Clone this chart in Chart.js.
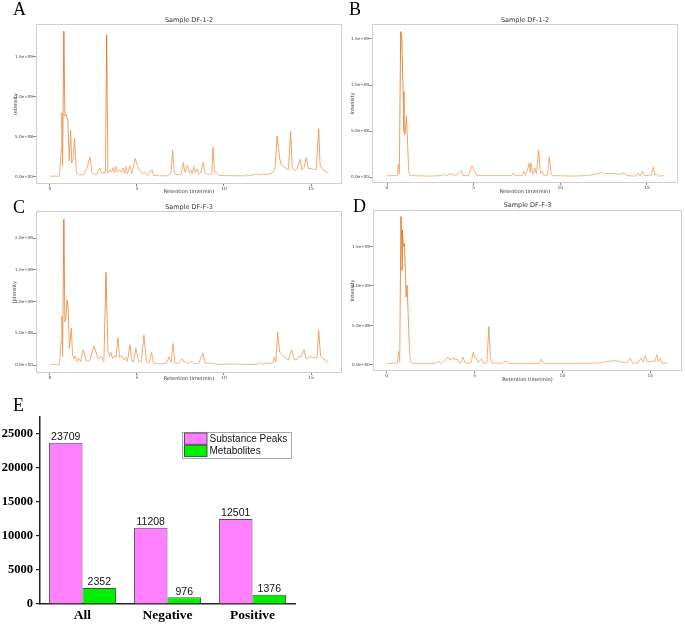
<!DOCTYPE html>
<html>
<head>
<meta charset="utf-8">
<script src="https://cdn.jsdelivr.net/npm/chart.js@4.4.0/dist/chart.umd.min.js"></script>
<style>
  html, body { margin: 0; padding: 0; background: #fff; }
  #page { position: relative; width: 685px; height: 625px; overflow: hidden; }
  canvas { position: absolute; }
  .tag { position: absolute; font-family: 'Liberation Serif', 'Times New Roman', serif; font-size: 18px; line-height: 1; color: #000; z-index: 2; }
</style>
</head>
<body>
<div id="page">
  <canvas id="chA" width="345" height="192" style="left:0px;top:8px"></canvas>
  <canvas id="chB" width="345" height="192" style="left:340px;top:8px"></canvas>
  <canvas id="chC" width="345" height="192" style="left:0px;top:198px"></canvas>
  <canvas id="chD" width="345" height="192" style="left:340px;top:198px"></canvas>
  <canvas id="chE" width="345" height="230" style="left:0px;top:395px"></canvas>
  <div class="tag" style="left:13px;top:0px">A</div>
  <div class="tag" style="left:349px;top:0px">B</div>
  <div class="tag" style="left:13px;top:198px">C</div>
  <div class="tag" style="left:353px;top:197px">D</div>
  <div class="tag" style="left:13px;top:396px">E</div>
</div>
<script>
// intensities are in units of 1e8
var UNIT = 1e8;

var aTime = [0, 0.55, 0.65, 0.69, 0.73, 0.8, 0.86, 0.92, 1.03, 1.11,
  1.19, 1.25, 1.32, 1.42, 1.52, 1.7, 1.95, 2.12, 2.3, 2.42,
  2.65, 2.87, 2.98, 3.1, 3.19, 3.26, 3.33, 3.45, 3.55, 3.64,
  3.72, 3.8, 3.9, 4.0, 4.1, 4.2, 4.3, 4.35, 4.45, 4.6,
  4.7, 4.9, 5.0, 5.15, 5.3, 5.46, 5.6, 5.86, 5.95, 6.3,
  6.7, 6.95, 7.05, 7.15, 7.35, 7.55, 7.66, 7.75, 7.82, 7.91,
  8.0, 8.1, 8.18, 8.26, 8.35, 8.45, 8.55, 8.65, 8.81, 8.9,
  9.1, 9.3, 9.37, 9.45, 9.55, 9.7, 10.6, 11.3, 11.36, 11.45,
  11.97, 12.1, 12.3, 12.6, 12.85, 12.95, 13.05, 13.2, 13.3, 13.5,
  13.7, 13.83, 13.92, 14.05, 14.2, 14.37, 14.47, 14.6, 14.73, 14.85,
  15.0, 15.15, 15.3, 15.44, 15.52, 15.65, 16.0];
var aIntensity = [0.1, 0.1, 3.5, 8.0, 1.4, 18.2, 7.6, 7.8, 7.0, 2.0,
  5.8, 1.8, 2.2, 4.8, 0.5, 0.25, 0.3, 1.0, 2.5, 0.5,
  0.25, 1.1, 0.4, 0.6, 0.5, 17.75, 0.5, 0.9, 0.6, 1.2,
  0.5, 1.3, 0.6, 0.9, 0.6, 1.1, 0.4, 1.3, 0.4, 1.4,
  0.4, 2.3, 1.6, 0.8, 0.4, 0.6, 0.2, 0.9, 0.2, 0.15,
  0.15, 0.4, 3.3, 0.4, 0.25, 0.4, 1.8, 0.6, 1.0, 1.4,
  0.5, 0.9, 0.4, 1.3, 0.5, 1.0, 0.3, 0.5, 1.8, 0.5,
  0.3, 0.4, 3.7, 0.6, 0.6, 0.2, 0.15, 0.15, 0.35, 0.15,
  0.4, 0.25, 0.35, 0.35, 0.6, 1.4, 5.1, 2.3, 1.5, 1.2,
  0.9, 5.7, 1.2, 0.8, 1.0, 2.2, 0.9, 1.2, 2.4, 1.0,
  1.1, 0.9, 1.0, 6.0, 1.5, 1.0, 0.45];

var bTime = [0, 0.6, 0.65, 0.71, 0.79, 0.85, 0.93, 0.98, 1.04, 1.12,
  1.17, 1.25, 1.35, 2.5, 3.16, 3.3, 3.45, 3.64, 3.8, 3.95,
  4.3, 4.4, 4.7, 4.9, 5.0, 5.15, 5.5, 7.2, 7.3, 7.4,
  7.8, 7.9, 8.0, 8.21, 8.26, 8.31, 8.4, 8.53, 8.62, 8.75,
  8.85, 8.95, 9.05, 9.25, 9.37, 9.47, 9.6, 10.75, 11.5, 12.0,
  12.39, 12.5, 13.0, 13.4, 13.7, 13.85, 14.3, 14.5, 14.6, 14.73,
  14.85, 15.1, 15.25, 15.37, 15.45, 15.55, 15.65, 16.0];
var bIntensity = [0.15, 0.15, 1.4, 0.3, 15.8, 15.2, 9.3, 4.9, 4.6, 6.6,
  4.6, 0.6, 0.15, 0.1, 0.15, 0.3, 0.15, 0.35, 0.25, 0.15,
  0.7, 0.15, 0.15, 1.2, 0.8, 0.2, 0.15, 0.15, 0.45, 0.15,
  0.15, 0.6, 0.15, 1.5, 0.5, 1.5, 0.3, 1.0, 0.3, 2.9,
  0.4, 0.6, 0.2, 0.2, 2.2, 0.3, 0.15, 0.1, 0.15, 0.3,
  0.55, 0.35, 0.4, 0.3, 0.4, 0.15, 0.1, 0.4, 0.1, 0.65,
  0.15, 0.2, 0.2, 1.1, 0.2, 0.35, 0.1, 0.15];

var cTime = [0, 0.55, 0.65, 0.69, 0.73, 0.8, 0.86, 0.92, 0.99, 1.05,
  1.12, 1.23, 1.3, 1.38, 1.45, 1.55, 1.65, 1.75, 1.92, 2.1,
  2.3, 2.53, 2.72, 2.8, 2.97, 3.1, 3.22, 3.33, 3.42, 3.5,
  3.6, 3.7, 3.8, 3.91, 4.0, 4.12, 4.25, 4.35, 4.45, 4.6,
  4.7, 4.8, 4.94, 5.1, 5.25, 5.4, 5.55, 5.7, 5.84, 5.95,
  6.3, 6.7, 6.84, 6.95, 7.07, 7.17, 7.35, 7.5, 7.6, 7.7,
  7.8, 7.95, 8.14, 8.25, 8.4, 8.55, 8.8, 8.9, 9.1, 9.4,
  9.6, 10.6, 11.2, 11.9, 12.0, 12.15, 12.5, 12.8, 12.9, 12.98,
  13.08, 13.2, 13.5, 13.7, 13.89, 14.05, 14.2, 14.3, 14.45, 14.6,
  14.7, 14.85, 15.0, 15.2, 15.35, 15.44, 15.55, 15.7, 16.0];
var cIntensity = [0.1, 0.1, 4.0, 7.7, 1.3, 23.0, 6.8, 7.5, 10.3, 9.0,
  2.6, 5.8, 1.6, 1.0, 1.4, 0.6, 1.1, 0.5, 2.4, 0.6,
  0.8, 3.0, 1.4, 0.9, 1.4, 0.5, 14.6, 2.3, 1.4, 2.0,
  1.0, 1.5, 1.2, 4.3, 1.2, 1.5, 0.8, 1.2, 0.6, 3.2,
  0.6, 0.5, 2.6, 0.6, 0.5, 4.7, 0.5, 0.3, 2.0, 0.3,
  0.15, 0.3, 1.3, 0.4, 3.4, 0.4, 0.2, 0.6, 1.0, 0.4,
  0.6, 0.2, 0.6, 0.3, 0.2, 0.3, 1.9, 0.3, 0.3, 0.25,
  0.1, 0.15, 0.1, 0.1, 0.4, 0.15, 0.25, 0.35, 1.3, 0.4,
  5.2, 2.0, 1.2, 0.8, 2.4, 0.8, 0.9, 1.3, 1.3, 2.4,
  1.0, 1.1, 1.4, 1.1, 1.2, 5.5, 1.4, 1.0, 0.4];

var dTime = [0, 0.6, 0.68, 0.74, 0.81, 0.85, 0.87, 0.89, 0.95, 1.01,
  1.07, 1.1, 1.16, 1.22, 1.28, 1.35, 1.5, 2.8, 2.93, 3.05,
  3.2, 3.35, 3.5, 3.6, 3.68, 3.76, 3.84, 3.92, 4.0, 4.1,
  4.2, 4.34, 4.45, 4.65, 4.8, 4.92, 5.0, 5.1, 5.2, 5.4,
  5.5, 5.7, 5.81, 5.9, 6.0, 6.5, 6.84, 6.95, 8.0, 8.7,
  8.79, 8.9, 10.6, 12.1, 12.5, 13.0, 13.4, 13.7, 13.86, 13.98,
  14.3, 14.47, 14.58, 14.71, 14.82, 15.05, 15.15, 15.25, 15.36, 15.45,
  15.55, 15.65, 16.0];
var dIntensity = [0.2, 0.25, 1.7, 0.4, 18.8, 16.2, 12.0, 17.1, 15.0, 15.4,
  11.2, 8.6, 10.1, 6.5, 2.7, 0.4, 0.2, 0.2, 0.5, 0.2,
  0.4, 0.7, 1.0, 0.6, 0.9, 0.7, 0.9, 0.6, 0.8, 0.3,
  0.3, 1.0, 0.3, 0.2, 0.3, 1.6, 0.9, 0.9, 0.3, 0.8,
  0.2, 0.25, 4.85, 0.9, 0.25, 0.2, 0.5, 0.2, 0.2, 0.2,
  0.75, 0.2, 0.2, 0.25, 0.45, 0.55, 0.35, 0.3, 0.9, 0.25,
  0.25, 0.9, 0.4, 1.2, 0.4, 0.4, 0.6, 0.35, 1.3, 0.4,
  0.8, 0.25, 0.25];

var timeTicks = [0, 5, 10, 15];
var intensityTicks = [0, 5, 10, 15];
var intensityTicksC = [0, 5, 10, 15, 20];

var groups = ['All', 'Negative', 'Positive'];
var substancePeaks = [23709, 11208, 12501];
var metabolites = [2352, 976, 1376];
var countTicks = [0, 5000, 10000, 15000, 20000, 25000];

function sciLabel(v) {
  var val = v * UNIT;
  if (val === 0) return '0.0e+00';
  var e = Math.floor(Math.log10(val) + 1e-9);
  var m = val / Math.pow(10, e);
  return m.toFixed(1) + 'e+' + (e < 10 ? '0' + e : e);
}

var framePlugin = {
  id: 'frame',
  afterDatasetsDraw: function(chart) {
    var a = chart.chartArea, c = chart.ctx;
    c.save();
    c.strokeStyle = '#cfcfcf';
    c.lineWidth = 1;
    c.strokeRect(a.left + 0.5, a.top + 0.5, a.right - a.left - 1, a.bottom - a.top - 1);
    c.restore();
  }
};

function lineColor(context) {
  var ch = context.chart, a = ch.chartArea;
  if (!a) return '#ec8a3c';
  var g = ch.ctx.createLinearGradient(0, a.bottom, 0, a.top);
  g.addColorStop(0, '#f2b886');
  g.addColorStop(0.15, '#ee9c5a');
  g.addColorStop(1, '#e46c12');
  return g;
}

function makeChrom(id, title, times, values, yTicks, g) {
  var pts = times.map(function(t, i) { return { x: t, y: values[i] }; });
  return new Chart(document.getElementById(id), {
    type: 'line',
    plugins: [framePlugin],
    data: {
      datasets: [{
        data: pts,
        borderColor: lineColor,
        borderWidth: 0.9,
        pointRadius: 0,
        tension: 0
      }]
    },
    options: {
      responsive: false,
      animation: false,
      layout: { padding: { left: 0, right: g.padRight, top: 0, bottom: 0 } },
      plugins: {
        legend: { display: false },
        tooltip: { enabled: false },
        title: {
          display: true,
          text: title,
          fullSize: false,
          color: '#333',
          font: { family: 'DejaVu Sans', size: 6.5, weight: 'normal', lineHeight: 1.2 },
          padding: { top: g.titleTop, bottom: g.titleBottom }
        }
      },
      scales: {
        x: {
          type: 'linear',
          min: g.xMin,
          max: g.xMax,
          afterFit: function(s) { s.height = g.xH; },
          afterBuildTicks: function(s) { s.ticks = timeTicks.map(function(v) { return { value: v }; }); },
          grid: { display: true, drawOnChartArea: false, drawTicks: true, tickLength: 2, color: '#888' },
          border: { display: false },
          ticks: {
            autoSkip: false, maxRotation: 0, padding: 0,
            color: '#444',
            font: { family: 'DejaVu Sans', size: 4.5 },
            callback: function(v) { return String(v); }
          },
          title: {
            display: true,
            text: 'Retention time(min)',
            color: '#333',
            font: { family: 'DejaVu Sans', size: 5, lineHeight: 1.2 },
            padding: { top: 0, bottom: g.xTitlePad }
          }
        },
        y: {
          type: 'linear',
          min: g.yMin,
          max: g.yMax,
          afterFit: function(s) { s.width = g.yW; },
          afterBuildTicks: function(s) { s.ticks = yTicks.map(function(v) { return { value: v }; }); },
          grid: { display: true, drawOnChartArea: false, drawTicks: true, tickLength: 3, color: '#888' },
          border: { display: false },
          ticks: {
            autoSkip: false, padding: 0,
            color: '#444',
            font: { family: 'DejaVu Sans', size: 4.2 },
            callback: function(v) { return sciLabel(v); }
          },
          title: {
            display: true,
            text: 'Intensity',
            color: '#333',
            font: { family: 'DejaVu Sans', size: 5, lineHeight: 1.2 },
            padding: { top: g.yTitlePad, bottom: 0 }
          }
        }
      }
    }
  });
}

makeChrom('chA', 'Sample DF-1-2', aTime, aIntensity, intensityTicks,
  { padRight: 3, titleTop: 8.1, titleBottom: 0.1, xH: 16, yW: 36, xTitlePad: 5, yTitlePad: 13,
    xMin: -0.8, xMax: 16.78, yMin: -0.875, yMax: 19.1 });
makeChrom('chB', 'Sample DF-1-2', bTime, bIntensity, intensityTicks,
  { padRight: 7, titleTop: 8.1, titleBottom: 0.1, xH: 17, yW: 32, xTitlePad: 5, yTitlePad: 10,
    xMin: -0.866, xMax: 16.79, yMin: -0.65, yMax: 16.63 });
makeChrom('chC', 'Sample DF-F-3', cTime, cIntensity, intensityTicksC,
  { padRight: 3, titleTop: 5.1, titleBottom: 0.1, xH: 17, yW: 36, xTitlePad: 8, yTitlePad: 12,
    xMin: -0.8, xMax: 16.78, yMin: -1.26, yMax: 24.29 });
makeChrom('chD', 'Sample DF-F-3', dTime, dIntensity, intensityTicks,
  { padRight: 3, titleTop: 3.1, titleBottom: 1.1, xH: 19, yW: 33, xTitlePad: 7, yTitlePad: 10,
    xMin: -0.78, xMax: 16.8, yMin: -0.76, yMax: 19.62 });

// panel E: bar chart
var valueLabels = {
  id: 'valueLabels',
  afterDatasetsDraw: function(chart) {
    var c = chart.ctx;
    c.save();
    c.fillStyle = '#111';
    c.font = '10.5px "Liberation Sans", Arial, sans-serif';
    c.textAlign = 'center';
    c.textBaseline = 'bottom';
    chart.data.datasets.forEach(function(ds, i) {
      chart.getDatasetMeta(i).data.forEach(function(bar, j) {
        c.fillText(String(ds.data[j]), bar.x, bar.y - 0.5);
      });
    });
    c.restore();
  }
};

var boxLegend = {
  id: 'boxLegend',
  afterDraw: function(chart) {
    var c = chart.ctx;
    var x = 182, y = 37, w = 109, h = 26;
    c.save();
    c.strokeStyle = '#a8a8a8';
    c.lineWidth = 1;
    c.strokeRect(x + 0.5, y + 0.5, w, h);
    c.font = '10px "Liberation Sans", Arial, sans-serif';
    c.textBaseline = 'middle';
    c.textAlign = 'left';
    chart.data.datasets.forEach(function(ds, i) {
      var ry = y + 1 + i * 12.3;
      c.fillStyle = ds.backgroundColor;
      c.fillRect(x + 2.5, ry, 22.5, 11.3);
      c.strokeStyle = ds.borderColor;
      c.strokeRect(x + 2.5, ry, 22.5, 11.3);
      c.fillStyle = '#111';
      c.fillText(ds.label, x + 27.5, ry + 6);
    });
    c.restore();
  }
};

new Chart(document.getElementById('chE'), {
  type: 'bar',
  plugins: [valueLabels, boxLegend],
  data: {
    labels: groups,
    datasets: [{
      label: 'Substance Peaks',
      data: substancePeaks,
      backgroundColor: '#ff80ff',
      borderColor: '#5c4a5c',
      borderWidth: 1,
      barPercentage: 1.0,
      categoryPercentage: 0.79
    }, {
      label: 'Metabolites',
      data: metabolites,
      backgroundColor: '#00f000',
      borderColor: '#3c5a3c',
      borderWidth: 1,
      barPercentage: 1.0,
      categoryPercentage: 0.79
    }]
  },
  options: {
    responsive: false,
    animation: false,
    layout: { padding: { left: 0, right: 50, top: 22, bottom: 0 } },
    plugins: {
      legend: { display: false },
      tooltip: { enabled: false }
    },
    scales: {
      x: {
        afterFit: function(s) { s.height = 21; },
        grid: { display: false, drawTicks: false },
        border: { display: true, color: '#222', width: 1.5 },
        ticks: {
          color: '#000',
          padding: 4,
          font: { family: '"Liberation Serif", "Times New Roman", serif', size: 13.5, weight: 'bold', lineHeight: 1.1 }
        }
      },
      y: {
        min: 0,
        max: 27500,
        afterFit: function(s) { s.width = 40; },
        afterBuildTicks: function(s) { s.ticks = countTicks.map(function(v) { return { value: v }; }); },
        grid: { display: true, drawOnChartArea: false, drawTicks: true, tickLength: 4, color: '#222', lineWidth: 1.2 },
        border: { display: true, color: '#222', width: 1.5 },
        ticks: {
          color: '#000',
          padding: 3,
          font: { family: '"Liberation Serif", "Times New Roman", serif', size: 12.5, weight: 'bold' },
          callback: function(v) { return String(v); }
        }
      }
    }
  }
});
</script>
</body>
</html>
